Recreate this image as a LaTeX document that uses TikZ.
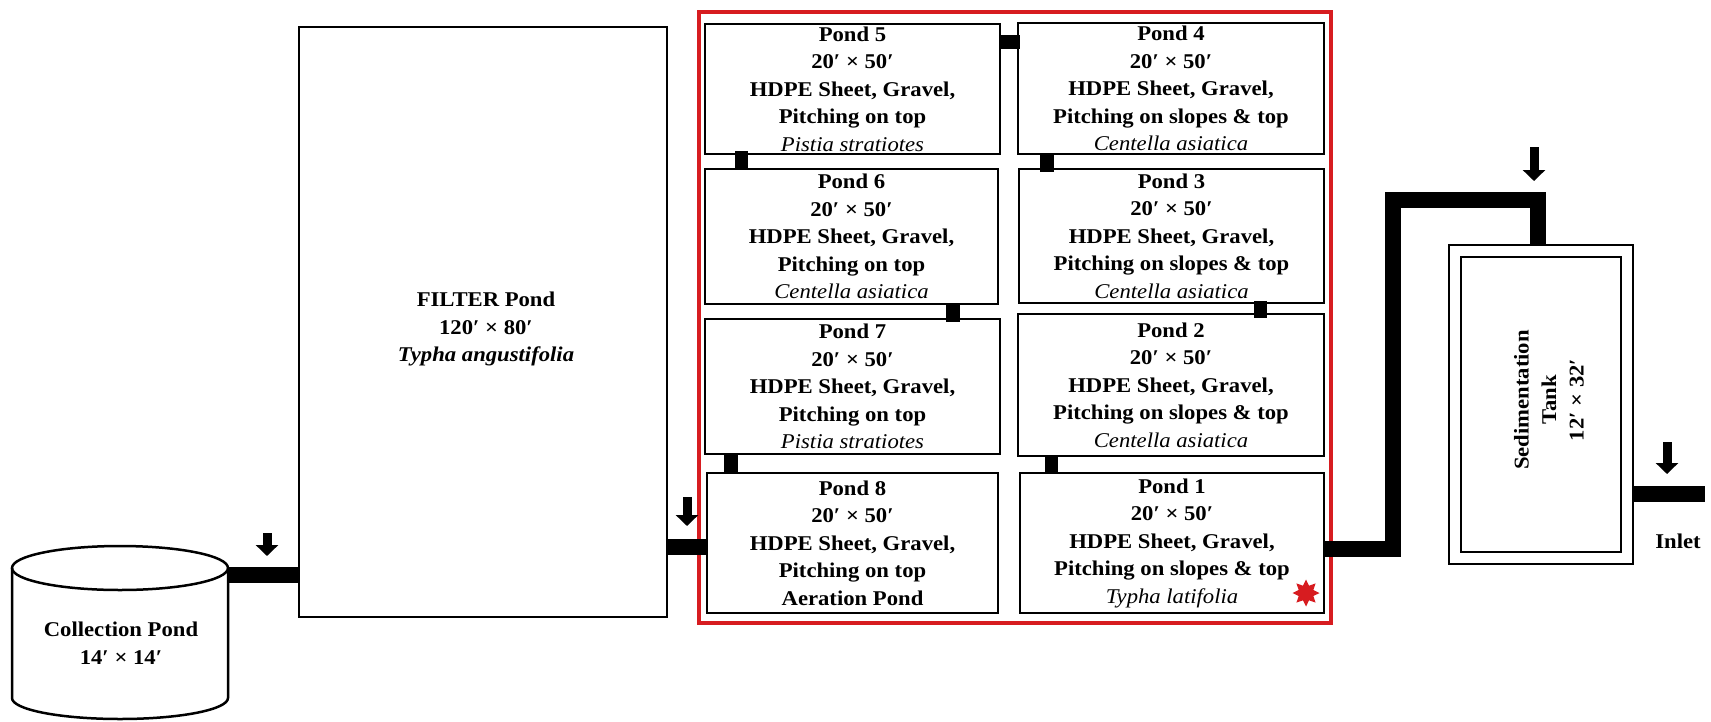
\documentclass[tikz,border=0pt]{standalone}
\usepackage{fontspec}
\setmainfont{Liberation Serif}[FakeStretch=1.08]
\usetikzlibrary{arrows.meta,shapes.geometric,calc}
\definecolor{redbox}{RGB}{215,28,32}
\newcommand\pondfont{\fontsize{21}{27.5}\selectfont\bfseries}
\newcommand\spec{\mdseries\itshape}
\begin{document}
\begin{tikzpicture}[x=1pt,y=-1pt,
  pond/.style={draw, line width=1.5pt, rectangle, inner sep=0pt, align=center, font=\pondfont},
  box/.style={draw, line width=1.5pt, rectangle, inner sep=0pt},
  lbl/.style={align=center, font=\pondfont, inner sep=0pt},
  link/.style={line width=13.5pt},
  pipe/.style={line width=16pt, line join=miter},
  darr/.style={line width=9pt, -{Triangle[width=22pt,length=11pt]}}]
\useasboundingbox[fill=white] (0,0) rectangle (1711,721);

% red frame
\node[draw=redbox, line width=3.5pt, minimum width=632pt, minimum height=611pt, inner sep=0pt] (frame) at (1015,317.5) {};

% ponds
\node[pond, minimum width=295pt, minimum height=130pt] (p5) at (852.5,89)
  {Pond 5\\20′ × 50′\\HDPE Sheet, Gravel,\\Pitching on top\\{\spec Pistia stratiotes}};
\node[pond, minimum width=306pt, minimum height=131pt] (p4) at (1171,88.5)
  {Pond 4\\20′ × 50′\\HDPE Sheet, Gravel,\\Pitching on slopes \& top\\{\spec Centella asiatica}};
\node[pond, minimum width=293pt, minimum height=135pt] (p6) at (851.5,236.5)
  {Pond 6\\20′ × 50′\\HDPE Sheet, Gravel,\\Pitching on top\\{\spec Centella asiatica}};
\node[pond, minimum width=305pt, minimum height=134pt] (p3) at (1171.5,236)
  {Pond 3\\20′ × 50′\\HDPE Sheet, Gravel,\\Pitching on slopes \& top\\{\spec Centella asiatica}};
\node[pond, minimum width=295pt, minimum height=135pt] (p7) at (852.5,386.5)
  {Pond 7\\20′ × 50′\\HDPE Sheet, Gravel,\\Pitching on top\\{\spec Pistia stratiotes}};
\node[pond, minimum width=306pt, minimum height=142pt] (p2) at (1171,385)
  {Pond 2\\20′ × 50′\\HDPE Sheet, Gravel,\\Pitching on slopes \& top\\{\spec Centella asiatica}};
\node[pond, minimum width=291pt, minimum height=140pt] (p8) at (852.5,543)
  {Pond 8\\20′ × 50′\\HDPE Sheet, Gravel,\\Pitching on top\\Aeration Pond};
\node[pond, minimum width=304pt, minimum height=140pt] (p1) at (1172,543)
  {Pond 1\\20′ × 50′\\HDPE Sheet, Gravel,\\Pitching on slopes \& top\\{\spec Typha latifolia}};

% star
\node[star, star points=8, star point ratio=1.7, fill=redbox, minimum size=27pt, inner sep=0pt] (mark1) at (1306,593) {};

% connectors between ponds
\draw[link] ($(p5.north east)+(0,18.5)$) -- ($(p4.north west)+(3,19.5)$);
\draw[link] ($(p5.south west)+(37,-4)$) -- ($(p6.north west)+(37,0)$);
\draw[link] ($(p4.south west)+(29.5,0)$) -- ($(p3.north west)+(28.5,4)$);
\draw[link] ($(p6.south west)+(248.5,0)$) -- ($(p7.north west)+(248.5,4)$);
\draw[link] ($(p3.south west)+(242,-3)$) -- ($(p2.north west)+(243,5)$);
\draw[link] ($(p7.south west)+(26.5,0)$) -- ($(p8.north west)+(24.5,0)$);
\draw[link] ($(p2.south west)+(34,0)$) -- ($(p1.north west)+(32,0)$);

% filter pond
\node[box, minimum width=368pt, minimum height=590pt] (filter) at (483,322) {};
\node[lbl] (filterlbl) at (486,329) {FILTER Pond\\120′ × 80′\\{\itshape Typha angustifolia}};

% collection pond (cylinder)
\draw[line width=2.5pt] (120,568) ellipse [x radius=108pt, y radius=22pt];
\draw[line width=2.5pt] (12,568) -- (12,698) arc [start angle=180, end angle=360, x radius=108pt, y radius=21pt] -- (228,568);
\coordinate (cylR) at (228,575);
\node[lbl] (colllbl) at (121,643) {Collection Pond\\14′ × 14′};

% sedimentation tank
\node[box, minimum width=184pt, minimum height=319pt] (tankO) at (1541,404.5) {};
\node[box, minimum width=160pt, minimum height=295pt] (tankI) at (1541,404.5) {};
\node[lbl, rotate=90] (tanklbl) at (1549,400) {Sedimentation\\Tank\\12′ × 32′};

% pipes
\draw[pipe] (cylR) -- (cylR -| filter.west);
\draw[pipe] ($(filter.east)+(0,225)$) -- ($(p8.west)+(0,4)$);
\coordinate (bend1) at (1393,200);
\draw[pipe] ($(p1.east)+(0,6)$) -| (bend1) -| ($(tankO.north)+(-3,0)$);
\coordinate (inletEnd) at (1705,493.5);
\draw[pipe] ($(tankO.east)+(0,89)$) -- (inletEnd);
\node[lbl] (inlet) at (1678,541) {Inlet};

% flow arrows
\coordinate (a1s) at (267,533); \coordinate (a1e) at (267,556);
\coordinate (a2s) at (687,497); \coordinate (a2e) at (687,526);
\coordinate (a3s) at (1534,147); \coordinate (a3e) at (1534,181);
\coordinate (a4s) at (1667,442); \coordinate (a4e) at (1667,474);
\draw[darr] (a1s) -- (a1e);
\draw[darr] (a2s) -- (a2e);
\draw[darr] (a3s) -- (a3e);
\draw[darr] (a4s) -- (a4e);
\end{tikzpicture}
\end{document}
